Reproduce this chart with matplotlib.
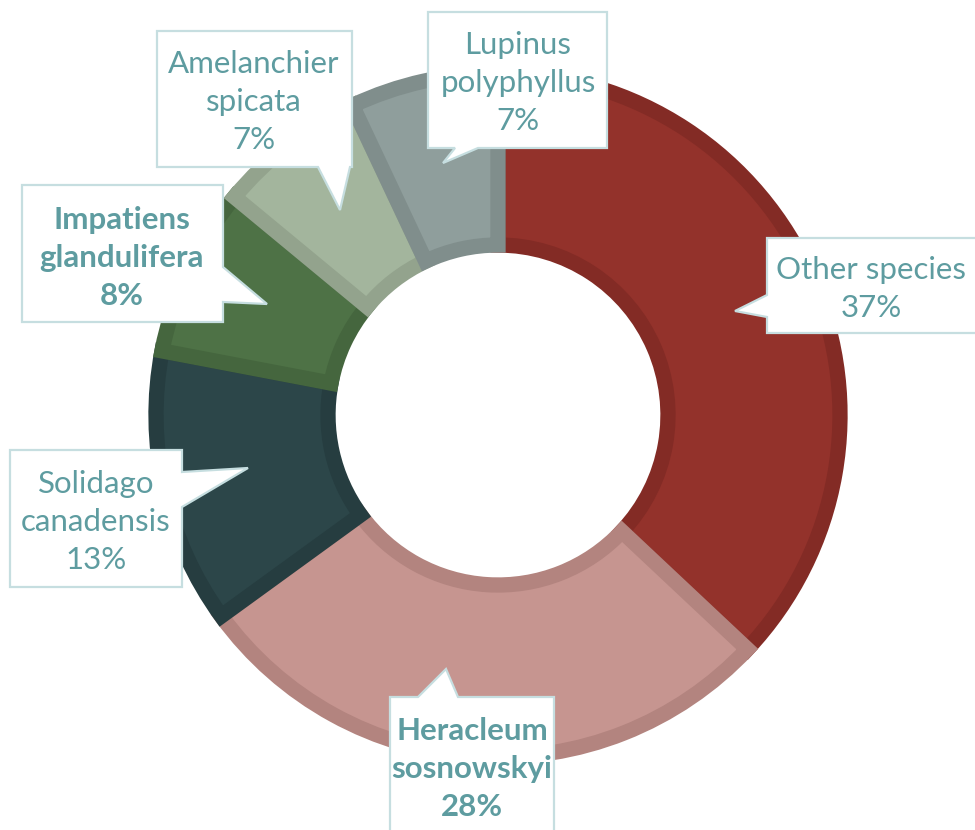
import matplotlib.pyplot as plt
from matplotlib.patches import Polygon

# data (clockwise from 12 o'clock)
species = ["Other species", "Heracleum\nsosnowskyi", "Solidago\ncanadensis",
           "Impatiens\nglandulifera", "Amelanchier\nspicata", "Lupinus\npolyphyllus"]
shares = [37, 28, 13, 8, 7, 7]
fills = ["#93322B", "#C69590", "#2C4649", "#4E7246", "#A3B59D", "#8F9E9C"]
edges = ["#832B25", "#B3847F", "#263D40", "#45663E", "#93A38D", "#808E8C"]
bold = [False, True, False, True, False, False]

# callout boxes in pixels: (x0, y0, x1, y1), pointer (side, base a, base b, tip), text centre
boxes = [
    (767, 238, 980, 333, ("left", 295, 317, (735, 311)), (871, 289)),
    (390, 697, 554, 840, ("top", 418, 458, (446, 669)), (472, 769)),
    (10, 450, 182, 587, ("right", 472, 507, (248, 468)), (96, 522)),
    (22, 185, 223, 322, ("right", 267, 302, (267, 304)), (122, 258)),
    (157, 31, 352, 167, ("bottom", 318, 350, (340, 210)), (254, 102)),
    (428, 12, 607, 148, ("bottom", 455, 478, (443, 163)), (518, 83)),
]

W, H = 975, 830
fig = plt.figure(figsize=(W / 100, H / 100), dpi=100)

# donut
cx, cy, R = 498, 415, 342
ax = fig.add_axes([(cx - R) / W, (H - cy - R) / H, 2 * R / W, 2 * R / H])
wedges, _ = ax.pie(shares, colors=fills, startangle=90, counterclock=False,
                   radius=1, wedgeprops=dict(width=1 - 170 / R))
for w, ec in zip(wedges, edges):
    w.set_edgecolor(ec)
    w.set_linewidth(11)
    w.set_clip_path(w)
ax.set_xlim(-1, 1)
ax.set_ylim(-1, 1)
ax.axis("off")

# callouts
ov = fig.add_axes([0, 0, 1, 1])
ov.set_xlim(0, W)
ov.set_ylim(H, 0)
ov.axis("off")

for (x0, y0, x1, y1, (side, a, b, tip), (tx, ty)), name, pct, bf in zip(boxes, species, shares, bold):
    if side == "left":
        pts = [(x0, y0), (x1, y0), (x1, y1), (x0, y1), (x0, b), tip, (x0, a)]
    elif side == "right":
        pts = [(x0, y0), (x1, y0), (x1, a), tip, (x1, b), (x1, y1), (x0, y1)]
    elif side == "top":
        pts = [(x0, y0), (a, y0), tip, (b, y0), (x1, y0), (x1, y1), (x0, y1)]
    else:
        pts = [(x0, y0), (x1, y0), (x1, y1), (b, y1), tip, (a, y1), (x0, y1)]
    ov.add_patch(Polygon(pts, closed=True, facecolor="white", edgecolor="#C6DEE0",
                         linewidth=1.6, joinstyle="miter", zorder=3))
    ov.text(tx, ty, f"{name}\n{pct}%", ha="center", va="center", color="#5E9CA0",
            fontsize=22.5, family="Lato", fontweight="bold" if bf else "normal",
            linespacing=1.45, zorder=4)

fig.savefig("out.png", dpi=100)
